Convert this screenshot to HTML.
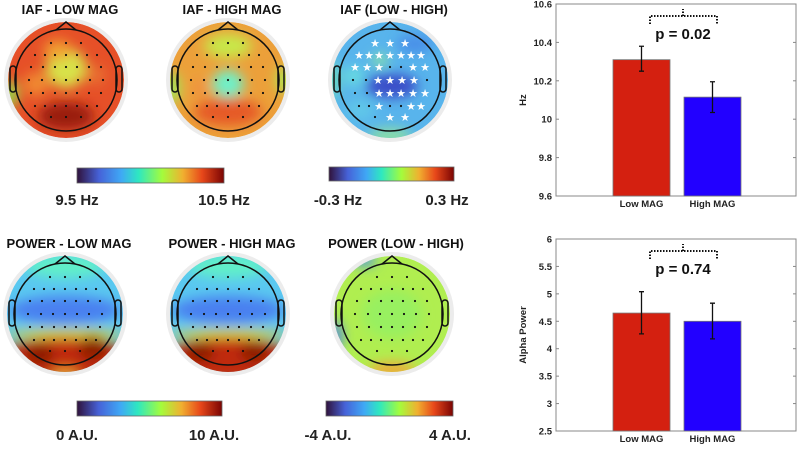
<!DOCTYPE html>
<html><head><meta charset="utf-8">
<style>
body{margin:0;background:#fff;width:800px;height:448px;overflow:hidden;font-family:"Liberation Sans",sans-serif}
svg text{font-family:"Liberation Sans",sans-serif}
</style></head>
<body>
<svg id="root" width="800" height="448" viewBox="0 0 800 448">
<defs>
<linearGradient id="turbo" x1="0" x2="1" y1="0" y2="0">
<stop offset="0" stop-color="#30123b"/><stop offset="0.15" stop-color="#4662d8"/>
<stop offset="0.3" stop-color="#3fa8f5"/><stop offset="0.42" stop-color="#2ee8c0"/>
<stop offset="0.58" stop-color="#a4fc3c"/><stop offset="0.72" stop-color="#f0b030"/>
<stop offset="0.85" stop-color="#e8481a"/><stop offset="1" stop-color="#7a0403"/>
</linearGradient>
<filter id="blur" x="-50%" y="-50%" width="200%" height="200%"><feGaussianBlur stdDeviation="6"/></filter>
</defs>
<g id="topos"></g>
<g id="bars"></g>
</svg>
<script>
const NS='http://www.w3.org/2000/svg';
function mk(p,tag,attrs){const e=document.createElementNS(NS,tag);for(const k in attrs)e.setAttribute(k,attrs[k]);p.appendChild(e);return e;}
const root=document.getElementById('root');
const tg=document.getElementById('topos');

const rows=[[-37,[-15,0,15]],[-25,[-31,-21,-11,0,11,21,31]],[-13,[-35,-23,-11,0,11,23,35]],[0,[-37,-24,-12,0,12,24,37]],[13,[-35,-23,-11,0,11,23,35]],[26,[-31,-21,-11,0,11,21,31]],[37,[-15,0,15]]];
const nonStar=['-13,0','-13,11','0,-37','0,-24','0,37','13,-35','13,-23','26,-31','26,-21','26,0','26,11','37,-15'];

const topos=[
 {name:'iaf-low-mag',title:'IAF - LOW MAG',cx:66,cy:80,base:'#e65028',blobs:[[0,-12,20,20,'#d8e24a'],[-8,-30,14,10,'#f0a030'],[0,36,28,14,'#9a1a08'],[-56,14,8,14,'#8ee04c'],[-30,4,12,12,'#f08a30'],[30,-5,10,10,'#e87030']]},
 {name:'iaf-high-mag',title:'IAF - HIGH MAG',cx:228,cy:80,base:'#eca03a',blobs:[[0,4,16,14,'#70f0c8'],[0,32,34,14,'#e65a28'],[0,-34,24,12,'#c8e84a'],[-56,8,8,16,'#9ee85a'],[56,0,8,14,'#b0e850'],[-28,8,8,8,'#f09040']]},
 {name:'iaf-low-minus-high',title:'IAF (LOW - HIGH)',cx:390,cy:80,base:'#58b4ec',blobs:[[2,6,26,12,'#3a4ec8'],[-36,-4,10,10,'#68dce0'],[-10,-20,8,6,'#90e8a0'],[0,56,22,8,'#8ee0a0'],[-58,0,6,20,'#70e0b0'],[25,-36,18,10,'#4a90e8'],[-30,30,14,10,'#60c8e8']],stars:true},
 {name:'power-low-mag',title:'POWER - LOW MAG',cx:65,cy:314,base:'#5ac8f0',blobs:[[0,-4,56,14,'#4a80f0'],[0,-48,40,12,'#60f0c8'],[0,20,60,5,'#e0d040'],[0,46,70,22,'#c02a0c'],[-25,40,14,10,'#8a1a06'],[28,34,14,12,'#8a1a06'],[0,60,14,6,'#f0a030']]},
 {name:'power-high-mag',title:'POWER - HIGH MAG',cx:228,cy:314,base:'#5ac8f0',blobs:[[0,-4,56,14,'#4a80f0'],[0,-48,40,12,'#60f0c8'],[0,20,60,5,'#e0d040'],[0,46,70,22,'#c02a0c'],[-28,38,14,10,'#8a1a06'],[26,38,14,10,'#8a1a06']]},
 {name:'power-low-minus-high',title:'POWER (LOW - HIGH)',cx:392,cy:314,base:'#b0ee50',blobs:[[-56,22,6,16,'#4a7ef0'],[-28,-54,12,6,'#4a90f0'],[0,56,24,8,'#f0a838'],[0,0,30,24,'#98f060']]}
];

topos.forEach(t=>{
 const g=mk(tg,'g',{});
 
 
 mk(g,'circle',{cx:t.cx,cy:t.cy,r:62,fill:'#ececec'});
 const cid='clip-'+t.name;
 const cp=mk(g,'clipPath',{id:cid});mk(cp,'circle',{cx:t.cx,cy:t.cy,r:58});
 const hg=mk(g,'g',{'clip-path':'url(#'+cid+')'});
 mk(hg,'circle',{cx:t.cx,cy:t.cy,r:58,fill:t.base});
 const bg=mk(hg,'g',{filter:'url(#blur)'});
 t.blobs.forEach(b=>mk(bg,'ellipse',{cx:t.cx+b[0],cy:t.cy+b[1],rx:b[2],ry:b[3],fill:b[4]}));
 mk(g,'circle',{cx:t.cx,cy:t.cy,r:51,fill:'none',stroke:'#111','stroke-width':1.5});
 mk(g,'path',{d:`M${t.cx-10} ${t.cy-50} L${t.cx} ${t.cy-58} L${t.cx+10} ${t.cy-50}`,fill:'none',stroke:'#111','stroke-width':1.5});
 mk(g,'rect',{x:t.cx-56,y:t.cy-14,width:6,height:26,rx:3,fill:'none',stroke:'#111','stroke-width':1.5});
 mk(g,'rect',{x:t.cx+50,y:t.cy-14,width:6,height:26,rx:3,fill:'none',stroke:'#111','stroke-width':1.5});
 rows.forEach(r=>r[1].forEach(dx=>{
   const key=r[0]+','+dx;
   if(t.stars && nonStar.indexOf(key)<0){
     const s=mk(g,'text',{x:t.cx+dx,y:t.cy+r[0]+4,'text-anchor':'middle','font-size':'11',fill:'#fff'});s.textContent='★';
   } else mk(g,'circle',{cx:t.cx+dx,cy:t.cy+r[0],r:1.1,fill:'#111'});
 }));
 const ti=mk(g,'text',{x:t.cx+4,y:t.cy-66,'text-anchor':'middle','font-size':'13','font-weight':'bold',fill:'#111'});
 ti.textContent=t.title;
 
 
});

const cbars=[
 {name:'iaf-colorbar',x:77,y:168,w:147,h:15,lo:'9.5 Hz',hi:'10.5 Hz',lx:77,hx:224,ly:205},
 {name:'iaf-diff-colorbar',x:329,y:167,w:125,h:14,lo:'-0.3 Hz',hi:'0.3 Hz',lx:338,hx:447,ly:205},
 {name:'power-colorbar',x:77,y:401,w:145,h:15,lo:'0 A.U.',hi:'10  A.U.',lx:77,hx:214,ly:440},
 {name:'power-diff-colorbar',x:326,y:401,w:127,h:15,lo:'-4 A.U.',hi:'4 A.U.',lx:328,hx:450,ly:440}
];
cbars.forEach(c=>{
 const g=mk(tg,'g',{});
 
 
 mk(g,'rect',{x:c.x,y:c.y,width:c.w,height:c.h,fill:'url(#turbo)',stroke:'#666','stroke-width':0.8});
 const a=mk(g,'text',{x:c.lx,y:c.ly,'text-anchor':'middle','font-size':'15','font-weight':'bold',fill:'#222'});a.textContent=c.lo;
 const b=mk(g,'text',{x:c.hx,y:c.ly,'text-anchor':'middle','font-size':'15','font-weight':'bold',fill:'#222'});b.textContent=c.hi;
});

const categories=['Low MAG','High MAG'];
const iafValues=[10.31,10.115];
const iafErrLow=[10.25,10.035];
const iafErrHigh=[10.38,10.195];
const iafTicks=['10.6','10.4','10.2','10','9.8','9.6'];
const powerValues=[4.65,4.50];
const powerErrLow=[4.27,4.18];
const powerErrHigh=[5.04,4.83];
const powerTicks=['6','5.5','5','4.5','4','3.5','3','2.5'];
const barColors=['#d42010','#2200ff'];

const bg=document.getElementById('bars');
function chart(name,top,bottom,ymin,ymax,ticks,vals,elo,ehi,ylabel,pText,yl){
 const L=556,R=796;
 const g=mk(bg,'g',{});
 
 
 const y=v=>bottom-(v-ymin)/(ymax-ymin)*(bottom-top);
 const xc=i=>641.5+i*71;
 mk(g,'rect',{x:L,y:top,width:R-L,height:bottom-top,fill:'none',stroke:'#888','stroke-width':1});
 ticks.forEach(tl=>{
  const v=parseFloat(tl),yy=y(v);
  mk(g,'line',{x1:L,x2:L+3,y1:yy,y2:yy,stroke:'#888'});
  mk(g,'line',{x1:R-3,x2:R,y1:yy,y2:yy,stroke:'#888'});
  const t=mk(g,'text',{x:L-4,y:yy+3.5,'text-anchor':'end','font-size':'9.5','font-weight':'bold',fill:'#222'});t.textContent=tl;
  
  
 });
 vals.forEach((v,i)=>{
  const r=mk(g,'rect',{x:xc(i)-28.5,y:y(v),width:57,height:bottom-y(v),fill:barColors[i],stroke:'#777','stroke-width':0.8});
  
  
  const e=mk(g,'path',{d:`M${xc(i)} ${y(elo[i])}V${y(ehi[i])}M${xc(i)-2.5} ${y(elo[i])}h5M${xc(i)-2.5} ${y(ehi[i])}h5`,stroke:'#111','stroke-width':1.3,fill:'none'});
  
  
  const lb=mk(g,'text',{x:xc(i),y:bottom+11,'text-anchor':'middle','font-size':'9.5','font-weight':'bold',fill:'#222'});lb.textContent=categories[i];
  
  
 });
 const yt=mk(g,'text',{x:0,y:0,'text-anchor':'middle','font-size':'9.5','font-weight':'bold',fill:'#222',transform:`translate(${yl[0]},${yl[1]}) rotate(-90)`});yt.textContent=ylabel;
 
 
 const by=top+12;
 const br=mk(g,'path',{d:`M650 ${by+8}V${by}H717V${by+8}M683 ${by}V${by-7}`,stroke:'#111','stroke-width':2,'stroke-dasharray':'1.5 1.5',fill:'none'});
 
 
 const pt=mk(g,'text',{x:683,y:by+23,'text-anchor':'middle','font-size':'15','font-weight':'bold',fill:'#111'});pt.textContent=pText;
 
 
}
chart('iaf-bar-chart',4,196,9.6,10.6,iafTicks,iafValues,iafErrLow,iafErrHigh,'Hz','p = 0.02',[526,100]);
chart('power-bar-chart',239,431,2.5,6,powerTicks,powerValues,powerErrLow,powerErrHigh,'Alpha Power','p = 0.74',[526,335]);
</script>
</body></html>
